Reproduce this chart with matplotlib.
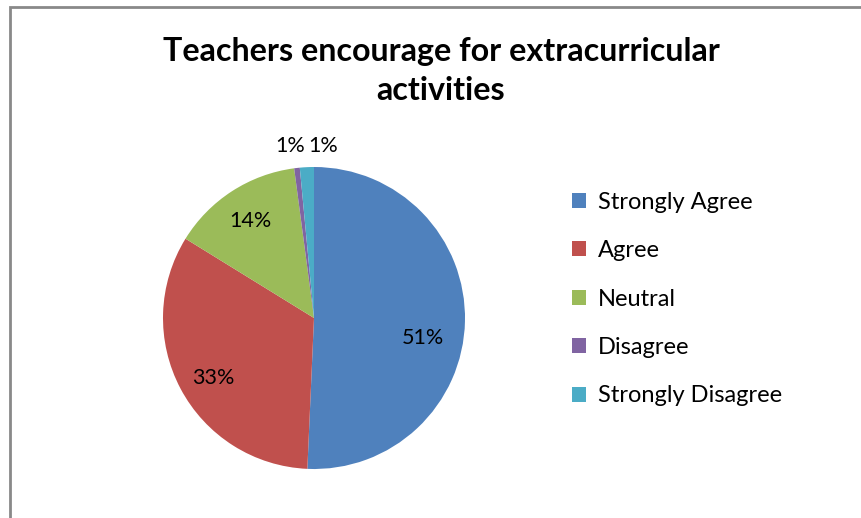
import matplotlib
matplotlib.use("Agg")
import matplotlib.pyplot as plt
from matplotlib.patches import Rectangle

categories = ["Strongly Agree", "Agree", "Neutral", "Disagree", "Strongly Disagree"]
values = [50.7, 33.1, 14.1, 0.6, 1.5]
pct_labels = ["51%", "33%", "14%", "1%", "1%"]
colors = ["#4F81BD", "#C0504D", "#9BBB59", "#8064A2", "#4BACC6"]
# label positions (pie radius units)
label_pos = [(0.72, -0.13), (-0.67, -0.40), (-0.42, 0.64), (-0.155, 1.14), (0.06, 1.14)]

W, H = 862, 518
fig = plt.figure(figsize=(W / 100, H / 100), dpi=100)
fig.patch.set_facecolor("white")

# outer chart border (only top and left visible)
fig.add_artist(Rectangle((10.5 / W, -0.1), 1.2, (H - 7.5) / H + 0.1, transform=fig.transFigure,
                         fill=False, edgecolor="#898989", linewidth=2))

cx, cy, r = 314, 318, 151
ax = fig.add_axes([(cx - r) / W, (H - cy - r) / H, 2 * r / W, 2 * r / H])
wedges, _ = ax.pie(values, colors=colors, startangle=90, counterclock=False, radius=1,
                   wedgeprops=dict(linewidth=0))
ax.set_xlim(-1, 1)
ax.set_ylim(-1, 1)
ax.set_aspect("auto")
ax.axis("off")

for lbl, (x, y) in zip(pct_labels, label_pos):
    ax.text(x, y, lbl, ha="center", va="center", fontsize=15.5, family="Lato", color="black")

fig.text(441 / W, 1 - 71 / H, "Teachers encourage for extracurricular\nactivities", ha="center",
         va="center", fontsize=23.2, fontweight="bold", family="Lato", linespacing=1.45)

leg = fig.legend(wedges, categories, loc="upper left", bbox_to_anchor=(560 / W, 1 - 180 / H),
                 frameon=False, prop=dict(family="Lato", size=17), handlelength=0.6,
                 handleheight=0.6, labelspacing=1.16, handletextpad=0.5, borderpad=0)

fig.savefig("out.png", dpi=100)
